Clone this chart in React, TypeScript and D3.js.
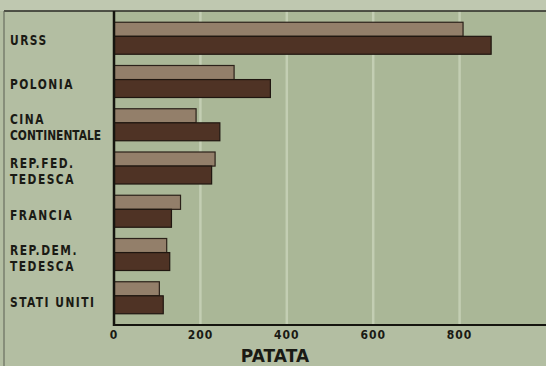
import React from "react";
import * as d3 from "d3";

const categories = ["URSS", "POLONIA", "CINA CONTINENTALE", "REP.FED. TEDESCA", "FRANCIA", "REP.DEM. TEDESCA", "STATI UNITI"];
const labelLines = [["URSS"], ["POLONIA"], ["CINA", "CONTINENTALE"], ["REP.FED.", "TEDESCA"], ["FRANCIA"], ["REP.DEM.", "TEDESCA"], ["STATI UNITI"]];
const seriesLight = [808, 278, 190, 234, 154, 122, 105];
const seriesDark = [873, 362, 245, 226, 133, 129, 114];
const tickValues = [0, 200, 400, 600, 800];
const gridValues = [200, 400, 600, 800];
const axisTitle = "PATATA";

const W = 546;
const H = 366;
const plotLeft = 114;
const plotRight = 546;
const plotTop = 11;
const plotBottom = 325;

export default function App() {
  const x = d3.scaleLinear().domain([0, 1000]).range([plotLeft, plotRight]);
  const y = d3.scaleBand<string>().domain(categories).range([plotTop, plotBottom]).paddingInner(0.26).paddingOuter(0.26);
  const yLabel = d3.scalePoint<string>().domain(categories).range([40, 302]);
  const bw = y.bandwidth();
  const lightFrac = 0.44;
  const font = "'DejaVu Sans Condensed', 'DejaVu Sans', sans-serif";
  const sx = 0.82;

  return (
    <svg width={W} height={H} style={{ position: "absolute", left: 0, top: 0, display: "block" }}>
      <rect x={0} y={0} width={W} height={H} fill="#b3bea2" />
      <rect x={0} y={0} width={W} height={plotTop} fill="#bfc8b0" />
      <rect x={plotLeft} y={plotTop} width={plotRight - plotLeft} height={plotBottom - plotTop} fill="#aab797" />
      {gridValues.map((v) => (
        <line key={"g" + v} x1={x(v)} x2={x(v)} y1={plotTop} y2={plotBottom} stroke="#c3ceb3" strokeWidth={2.5} />
      ))}
      {categories.map((c, i) => {
        const y0 = y(c)!;
        const hL = bw * lightFrac;
        return (
          <g key={c}>
            <rect x={x(0)} y={y0} width={x(seriesLight[i]) - x(0)} height={hL} fill="#937f6a" stroke="#2b2119" strokeWidth={1.2} />
            <rect x={x(0)} y={y0 + hL} width={x(seriesDark[i]) - x(0)} height={bw - hL} fill="#4f3325" stroke="#1f1610" strokeWidth={1.2} />
          </g>
        );
      })}
      <line x1={4} x2={W} y1={plotTop} y2={plotTop} stroke="#2a2a24" strokeWidth={1.5} />
      <line x1={4} x2={4} y1={plotTop} y2={H} stroke="#5a5e52" strokeWidth={1} />
      <line x1={plotLeft} x2={plotLeft} y1={plotTop} y2={plotBottom + 1} stroke="#15150f" strokeWidth={2.5} />
      <line x1={plotLeft - 1} x2={plotRight} y1={plotBottom} y2={plotBottom} stroke="#15150f" strokeWidth={2} />
      {categories.map((c, i) => {
        const lines = labelLines[i];
        const cy = yLabel(c)!;
        const lh = 16;
        return (
          <g key={"l" + c} transform={`translate(10,0) scale(${sx},1)`}>
            {lines.map((t, j) => (
              <text key={j} x={0} y={cy + (j - (lines.length - 1) / 2) * lh} dominantBaseline="central" fontFamily={font} fontWeight="bold" fontSize={14.5} fill="#1a1a14" letterSpacing={t.length > 11 ? 0 : 1.8}>
                {t}
              </text>
            ))}
          </g>
        );
      })}
      {tickValues.map((v) => (
        <text key={"t" + v} x={x(v)} y={335} textAnchor="middle" dominantBaseline="central" fontFamily={font} fontWeight="bold" fontSize={12} letterSpacing={1} fill="#1a1a14">
          {v}
        </text>
      ))}
      <text x={275} y={356} textAnchor="middle" dominantBaseline="central" fontFamily="'DejaVu Sans', sans-serif" fontWeight="bold" fontSize={17} fill="#1a1a14">
        {axisTitle}
      </text>
    </svg>
  );
}
